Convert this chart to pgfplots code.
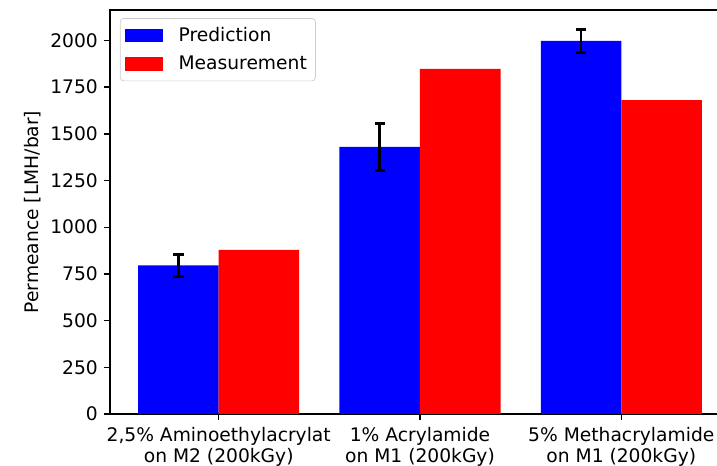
\documentclass[border=0pt]{standalone}
\usepackage{pgfplots}
\pgfplotsset{compat=1.18}
\usepackage{fontspec}
\setmainfont{DejaVu Sans}
\definecolor{predblue}{RGB}{0,0,255}
\definecolor{measred}{RGB}{255,0,0}
\pgfplotsset{
  mplbar/.style={ybar, bar shift=0pt, fill=#1, draw=none,
    legend image code/.code={\fill[##1, fill opacity=1, sharp corners] (0bp,-3.8bp) rectangle (21.6bp,3.8bp);}},
}
\begin{document}
\begin{tikzpicture}
\begin{axis}[
  at={(63.36bp,29.95bp)}, anchor=south west,
  scale only axis, width=357.12bp, height=232.7bp,
  xmin=-0.54, xmax=2.54, ymin=0, ymax=2163,
  bar width=0.4,
  xtick={0,1,2},
  xticklabels={{2,5\% Aminoethylacrylat\\on M2 (200kGy)},{1\% Acrylamide\\on M1 (200kGy)},{5\% Methacrylamide\\on M1 (200kGy)}},
  xticklabel style={align=center, yshift=-0.6bp, font=\fontsize{10.8}{12.2}\selectfont},
  ytick={0,250,...,2000},
  tick pos=left, tick align=outside, major tick length=3.5bp,
  tick style={black, line width=0.8bp},
  axis line style={line width=0.8bp},
  ylabel={Permeance [LMH/bar]},
  ylabel style={yshift=-1.5bp},
  /pgf/number format/assume math mode=true,
  /pgf/number format/1000 sep={},
  font=\fontsize{10.8}{12.6}\selectfont,
  legend style={at={(0.016,0.98)}, anchor=north west, draw=black!20, rounded corners=2bp,
    fill=white, fill opacity=0.8, text opacity=1, font=\fontsize{10.8}{12.6}\selectfont,
    inner sep=3bp, row sep=3bp, column sep=7bp},
  legend cell align=left,
]
\addplot[mplbar=predblue,
  error bars/.cd, y dir=both, y explicit,
  error bar style={black, line width=1.5bp},
  error mark options={black, rotate=90, mark size=3bp, line width=1.5bp}]
  coordinates {(-0.2,795) +- (0,60) (0.8,1430) +- (0,126) (1.8,1997) +- (0,62)};
\addlegendentry{Prediction}
\addplot[mplbar=measred] coordinates {(0.2,878) (1.2,1848) (2.2,1681)};
\addlegendentry{Measurement}
\end{axis}
\pgfresetboundingbox
\path[use as bounding box] (0,0) rectangle (413bp,268.4bp);
\end{tikzpicture}
\end{document}
